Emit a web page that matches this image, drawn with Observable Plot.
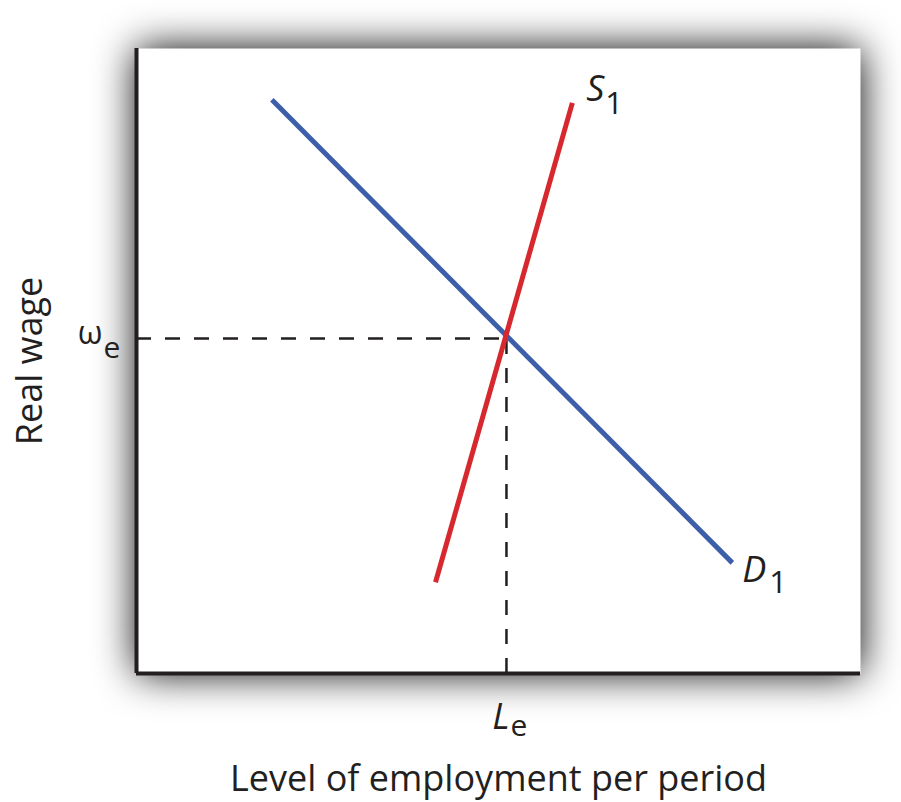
<!DOCTYPE html>
<html><head><meta charset="utf-8">
<script src="https://cdn.jsdelivr.net/npm/d3@7"></script>
<script src="https://cdn.jsdelivr.net/npm/@observablehq/plot@0.6"></script>
<style>body{margin:0;background:#fff;} svg{display:block;}</style>
</head><body><div id="chart"></div>
<script>
// Values (both axes in arbitrary 0–100 units)
const supplyQ = [41.3, 60.2];
const supplyW = [14.6, 91.3];
const demandQ = [18.7, 82.3];
const demandW = [91.8, 17.7];
const equilibriumQ = [51.1];
const equilibriumW = [53.6];
const curveNames = ["S", "D"];
const curveSubs = ["1", "1"];
const wageTick = ["ω", "e"];
const employmentTick = ["L", "e"];
const xTitle = "Level of employment per period";
const yTitle = "Real wage";

const supply = supplyQ.map((q, i) => ({q, w: supplyW[i]}));
const demand = demandQ.map((q, i) => ({q, w: demandW[i]}));
const eq = [{q: equilibriumQ[0], w: equilibriumW[0]}];
const ink = "#231f20";
const font = "'Open Sans', sans-serif";

const chart = Plot.plot({
  width: 901, height: 802,
  marginLeft: 136, marginRight: 41, marginTop: 48, marginBottom: 129,
  x: {domain: [0, 100], axis: null},
  y: {domain: [0, 100], axis: null},
  style: {fontFamily: font, background: "#fff", overflow: "visible"},
  marks: [
    Plot.frame({fill: "#fff", stroke: "none"}),
    Plot.ruleY(eq, {y: "w", x1: d => 0, x2: "q", stroke: ink, strokeWidth: 2.5, strokeDasharray: "15,14"}),
    Plot.ruleX(eq, {x: "q", y1: d => 0, y2: "w", stroke: ink, strokeWidth: 2.5, strokeDasharray: "15,14"}),
    Plot.line(demand, {x: "q", y: "w", stroke: "#3d5ea8", strokeWidth: 5, strokeLinecap: "butt"}),
    Plot.line(supply, {x: "q", y: "w", stroke: "#d7282f", strokeWidth: 5, strokeLinecap: "butt"}),
    Plot.ruleX([0], {stroke: ink, strokeWidth: 4}),
    Plot.ruleY([0], {stroke: ink, strokeWidth: 4}),
    // curve labels
    Plot.text([supply[1]], {x: "q", y: "w", text: d => curveNames[0], fontStyle: "italic", fontSize: 36, fill: ink, textAnchor: "start", lineAnchor: "bottom", dx: 14, dy: -2}),
    Plot.text([supply[1]], {x: "q", y: "w", text: d => curveSubs[0], fontSize: 31, fill: ink, textAnchor: "start", lineAnchor: "bottom", dx: 33, dy: 11}),
    Plot.text([demand[1]], {x: "q", y: "w", text: d => curveNames[1], fontStyle: "italic", fontSize: 36, fill: ink, textAnchor: "start", lineAnchor: "bottom", dx: 10, dy: 19}),
    Plot.text([demand[1]], {x: "q", y: "w", text: d => curveSubs[1], fontSize: 31, fill: ink, textAnchor: "start", lineAnchor: "bottom", dx: 37, dy: 30}),
    // equilibrium tick labels
    Plot.text(eq, {x: d => 0, y: "w", text: d => wageTick[0], fontSize: 32, fill: ink, textAnchor: "end", lineAnchor: "bottom", dx: -34, dy: 5}),
    Plot.text(eq, {x: d => 0, y: "w", text: d => wageTick[1], fontSize: 30, fill: ink, textAnchor: "start", lineAnchor: "bottom", dx: -33, dy: 19}),
    Plot.text(eq, {x: "q", y: d => 0, text: d => employmentTick[0], fontStyle: "italic", fontSize: 36, fill: ink, textAnchor: "end", lineAnchor: "bottom", dx: 3, dy: 55}),
    Plot.text(eq, {x: "q", y: d => 0, text: d => employmentTick[1], fontSize: 30, fill: ink, textAnchor: "start", lineAnchor: "bottom", dx: 4, dy: 62}),
    // axis titles
    Plot.text([yTitle], {frameAnchor: "left", text: d => d, rotate: -90, fontSize: 36, fill: ink, textAnchor: "middle", lineAnchor: "bottom", dx: -95}),
    Plot.text([xTitle], {frameAnchor: "bottom", text: d => d, fontSize: 36, fill: ink, textAnchor: "middle", lineAnchor: "bottom", dy: 117})
  ]
});
const frame = chart.querySelector('[aria-label="frame"]');
if (frame) frame.style.filter = "drop-shadow(0px 0px 20px rgba(0,0,0,1))";
document.getElementById("chart").appendChild(chart);
</script>
</body></html>
